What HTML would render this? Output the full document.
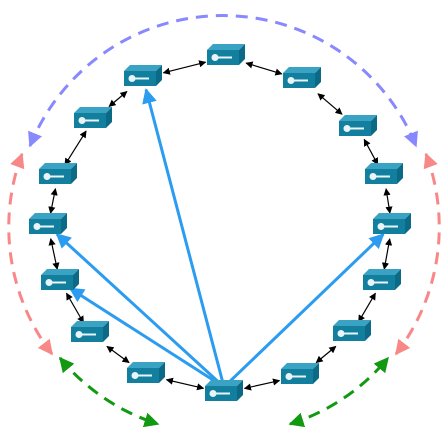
<!DOCTYPE html>
<html><head><meta charset="utf-8"><style>
html,body{margin:0;padding:0;background:#fff;width:445px;height:440px;overflow:hidden}
svg{display:block}
</style></head><body>
<svg id="s" width="445" height="440" viewBox="0 0 445 440">
<defs>
<marker id="mb" viewBox="0 0 10 10" refX="9" refY="5" markerWidth="6" markerHeight="6" orient="auto-start-reverse"><path d="M0,0L10,5L0,10z" fill="#000"/></marker>
<marker id="mbl" viewBox="0 0 10 10" refX="9" refY="5" markerWidth="5" markerHeight="5" orient="auto-start-reverse"><path d="M0,0L10,5L0,10z" fill="#2b9cf0"/></marker>
<marker id="mpu" viewBox="0 0 10 10" refX="9" refY="5" markerWidth="5" markerHeight="5" orient="auto-start-reverse"><path d="M0,0L10,5L0,10z" fill="#8888ff"/></marker>
<marker id="mre" viewBox="0 0 10 10" refX="9" refY="5" markerWidth="5" markerHeight="5" orient="auto-start-reverse"><path d="M0,0L10,5L0,10z" fill="#f88888"/></marker>
<marker id="mgr" viewBox="0 0 10 10" refX="9" refY="5" markerWidth="5" markerHeight="5" orient="auto-start-reverse"><path d="M0,0L10,5L0,10z" fill="#119911"/></marker>
</defs>
<g fill="none" stroke-width="3" stroke-dasharray="12 8">
<path d="M30 146 A208 208 0 0 1 416 146" stroke="#8888ff" marker-start="url(#mpu)" marker-end="url(#mpu)"/>
<path d="M22 154 A208 208 0 0 0 52 354" stroke="#f88888" marker-start="url(#mre)" marker-end="url(#mre)"/>
<path d="M426 154 A208 208 0 0 1 396 354" stroke="#f88888" marker-start="url(#mre)" marker-end="url(#mre)"/>
<path d="M60 358 A208 208 0 0 0 158 424" stroke="#119911" marker-start="url(#mgr)" marker-end="url(#mgr)"/>
<path d="M290 424 A208 208 0 0 0 388 358" stroke="#119911" marker-start="url(#mgr)" marker-end="url(#mgr)"/>
</g>
<g id="links"></g>
<g id="fingers"></g>
<g id="nodes"></g>
</svg>
<script>
const nodeX=[226,302,358,384,392,382,352,300,224,146,90,60,48,58,93,143];
const nodeY=[57,80,128,176,226,282,333,376,393,375,334,282,226,176,120,78];
const fingerTargets=[15,12,11,4];
const NS='http://www.w3.org/2000/svg';
const links=document.getElementById('links'),fingers=document.getElementById('fingers'),nodes=document.getElementById('nodes');
const n=nodeX.length;
function shorten(x1,y1,x2,y2,a,b){const dx=x2-x1,dy=y2-y1,l=Math.hypot(dx,dy);return [x1+dx*a/l,y1+dy*a/l,x2-dx*b/l,y2-dy*b/l];}
for(let i=0;i<n;i++){
  const j=(i+1)%n;
  const dx=Math.abs(nodeX[j]-nodeX[i]),dy=Math.abs(nodeY[j]-nodeY[i]);
  const s=dx>dy?21:13;
  const p=shorten(nodeX[i],nodeY[i],nodeX[j],nodeY[j],s,s);
  const l=document.createElementNS(NS,'line');
  l.setAttribute('x1',p[0]);l.setAttribute('y1',p[1]);l.setAttribute('x2',p[2]);l.setAttribute('y2',p[3]);
  l.setAttribute('stroke','#000');l.setAttribute('stroke-width','1.2');
  l.setAttribute('marker-start','url(#mb)');l.setAttribute('marker-end','url(#mb)');
  
  
  links.appendChild(l);
}
const src=8;
fingerTargets.forEach(t=>{
  const p=shorten(nodeX[src],nodeY[src]-6,nodeX[t],nodeY[t],2,12);
  const l=document.createElementNS(NS,'line');
  l.setAttribute('x1',p[0]);l.setAttribute('y1',p[1]);l.setAttribute('x2',p[2]);l.setAttribute('y2',p[3]);
  l.setAttribute('stroke','#2b9cf0');l.setAttribute('stroke-width','3');
  l.setAttribute('marker-end','url(#mbl)');
  
  
  fingers.appendChild(l);
});
for(let i=0;i<n;i++){
  const x=nodeX[i]-19,y=nodeY[i]-7;
  const g=document.createElementNS(NS,'g');
  
  
  g.innerHTML=`<path d="M${x} ${y} l6 -6 h32 l-6 6z" fill="#3aa3c3"/>
<path d="M${x+32} ${y} l6 -6 v15 l-6 6z" fill="#0d6a86"/>
<rect x="${x}" y="${y}" width="32" height="15" fill="#137f9e"/>
<circle cx="${x+8}" cy="${y+7.5}" r="3.5" fill="#e8f4f8"/>
<rect x="${x+11}" y="${y+6.5}" width="14" height="2" fill="#e8f4f8"/>`;
  nodes.appendChild(g);
}
</script>
</body></html>
